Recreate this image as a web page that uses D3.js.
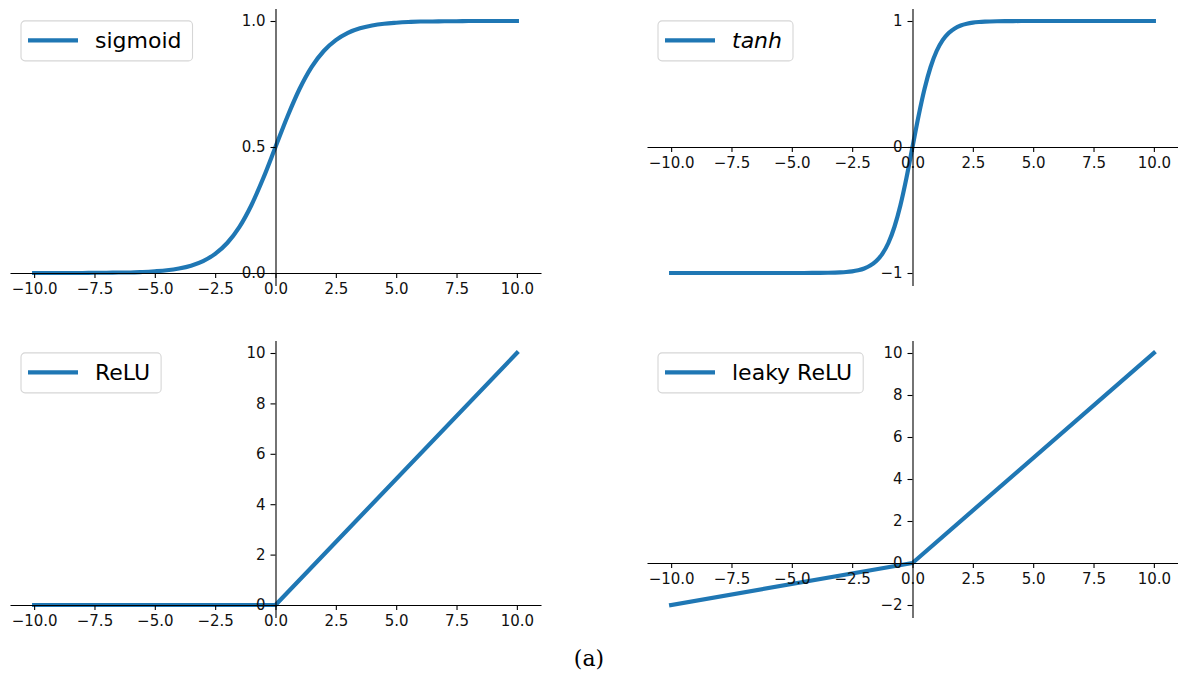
<!DOCTYPE html>
<html>
<head>
<meta charset="utf-8">
<script src="https://cdn.jsdelivr.net/npm/d3@7"></script>
<style>
  html, body { margin: 0; padding: 0; background: #fff; }
  svg { display: block; }
  .tick text { font-family: "DejaVu Sans", sans-serif; font-size: 15px; fill: #111; }
</style>
</head>
<body>
<svg id="chart" width="1178" height="675"></svg>
<script>
// ---- Data ----
const xTicks = [-10, -7.5, -5, -2.5, 0, 2.5, 5, 7.5, 10];

const sigmoidX = [-10,-9.5,-9,-8.5,-8,-7.5,-7,-6.5,-6,-5.5,-5,-4.5,-4,-3.5,-3,-2.5,-2,-1.5,-1,-0.5,0,0.5,1,1.5,2,2.5,3,3.5,4,4.5,5,5.5,6,6.5,7,7.5,8,8.5,9,9.5,10];
const sigmoidY = [0.000,0.000,0.000,0.000,0.000,0.001,0.001,0.002,0.002,0.004,0.007,0.011,0.018,0.029,0.047,0.076,0.119,0.182,0.269,0.378,0.500,0.622,0.731,0.818,0.881,0.924,0.953,0.971,0.982,0.989,0.993,0.996,0.998,0.998,0.999,0.999,1.000,1.000,1.000,1.000,1.000];
const sigmoidTicks = [0, 0.5, 1];

const tanhX = [-10,-9,-8,-7,-6,-5,-4.5,-4,-3.5,-3,-2.75,-2.5,-2.25,-2,-1.75,-1.5,-1.25,-1,-0.75,-0.5,-0.25,0,0.25,0.5,0.75,1,1.25,1.5,1.75,2,2.25,2.5,2.75,3,3.5,4,4.5,5,6,7,8,9,10];
const tanhY = [-1.000,-1.000,-1.000,-1.000,-1.000,-1.000,-1.000,-0.999,-0.998,-0.995,-0.992,-0.987,-0.978,-0.964,-0.941,-0.905,-0.848,-0.762,-0.635,-0.462,-0.245,0.000,0.245,0.462,0.635,0.762,0.848,0.905,0.941,0.964,0.978,0.987,0.992,0.995,0.998,0.999,1.000,1.000,1.000,1.000,1.000,1.000,1.000];
const tanhTicks = [-1, 0, 1];

const reluX = [-10, 0, 10];
const reluY = [0, 0, 10];
const reluTicks = [0, 2, 4, 6, 8, 10];

const leakyX = [-10, 0, 10];
const leakyY = [-2, 0, 10];
const leakyTicks = [-2, 0, 2, 4, 6, 8, 10];

const labels = ["sigmoid", "tanh", "ReLU", "leaky ReLU"];
const caption = "(a)";

// ---- Layout ----
const svg = d3.select("#chart");
const color = "#1f77b4";
const cols = [[10, 541], [647, 1178]];
const rows = [[8.4, 285.6], [340.4, 617.6]];

const panels = [
  { xs: sigmoidX, ys: sigmoidY, yTicks: sigmoidTicks, yFmt: d3.format(".1f"), label: labels[0], italic: false, col: 0, row: 0 },
  { xs: tanhX, ys: tanhY, yTicks: tanhTicks, yFmt: d3.format("d"), label: labels[1], italic: true, col: 1, row: 0 },
  { xs: reluX, ys: reluY, yTicks: reluTicks, yFmt: d3.format("d"), label: labels[2], italic: false, col: 0, row: 1 },
  { xs: leakyX, ys: leakyY, yTicks: leakyTicks, yFmt: d3.format("d"), label: labels[3], italic: false, col: 1, row: 1 }
];

panels.forEach(p => {
  const [x0, x1] = cols[p.col];
  const [y0, y1] = rows[p.row];
  const xmin = d3.min(p.xs), xmax = d3.max(p.xs);
  const ymin = d3.min(p.ys), ymax = d3.max(p.ys);
  const xm = (xmax - xmin) * 0.05, ym = (ymax - ymin) * 0.05;
  const x = d3.scaleLinear().domain([xmin - xm, xmax + xm]).range([x0, x1]);
  const y = d3.scaleLinear().domain([ymin - ym, ymax + ym]).range([y1, y0]);

  const g = svg.append("g");
  const data = p.xs.map((v, i) => [v, p.ys[i]]);

  // curve
  g.append("path")
    .datum(data)
    .attr("fill", "none")
    .attr("stroke", color)
    .attr("stroke-width", 4.2)
    .attr("stroke-linecap", "square")
    .attr("stroke-linejoin", "round")
    .attr("d", d3.line().x(d => x(d[0])).y(d => y(d[1])).curve(p.xs.length > 3 ? d3.curveMonotoneX : d3.curveLinear));

  // x axis at y=0
  const xAxis = g.append("g")
    .attr("transform", `translate(0,${y(0)})`)
    .call(d3.axisBottom(x).tickValues(xTicks).tickFormat(d3.format(".1f")).tickSize(5).tickSizeOuter(0).tickPadding(5));
  // y axis at x=0
  const yAxis = g.append("g")
    .attr("transform", `translate(${x(0)},0)`)
    .call(d3.axisLeft(y).tickValues(p.yTicks).tickFormat(p.yFmt).tickSize(5).tickSizeOuter(0).tickPadding(5));
  [xAxis, yAxis].forEach(a => {
    a.select(".domain").attr("stroke", "#000").attr("stroke-width", 1.1);
    a.selectAll(".tick line").attr("stroke", "#000").attr("stroke-width", 1.1);
    a.attr("font-size", null).attr("font-family", null);
  });

  // legend
  const lx = x0 + 11, ly = y0 + 12.5;
  const leg = g.append("g").attr("transform", `translate(${lx},${ly})`);
  const rect = leg.append("rect")
    .attr("x", 0).attr("y", 0).attr("height", 40).attr("rx", 4)
    .attr("fill", "#fff").attr("fill-opacity", 0.8)
    .attr("stroke", "#d6d6d6").attr("stroke-width", 1.1);
  leg.append("line")
    .attr("x1", 7).attr("x2", 57).attr("y1", 19.5).attr("y2", 19.5)
    .attr("stroke", color).attr("stroke-width", 4.2);
  const t = leg.append("text")
    .attr("x", 74).attr("y", 27.5)
    .attr("font-family", "DejaVu Sans, sans-serif")
    .attr("font-size", 22)
    .attr("font-style", p.italic ? "italic" : "normal")
    .attr("fill", "#000")
    .text(p.label);
  const tw = t.node().getComputedTextLength();
  rect.attr("width", 74 + tw + 11);
});

svg.append("text")
  .attr("x", 589).attr("y", 666)
  .attr("text-anchor", "middle")
  .attr("font-family", "DejaVu Serif, serif")
  .attr("font-size", 22)
  .attr("fill", "#000")
  .text(caption);
</script>
</body>
</html>
